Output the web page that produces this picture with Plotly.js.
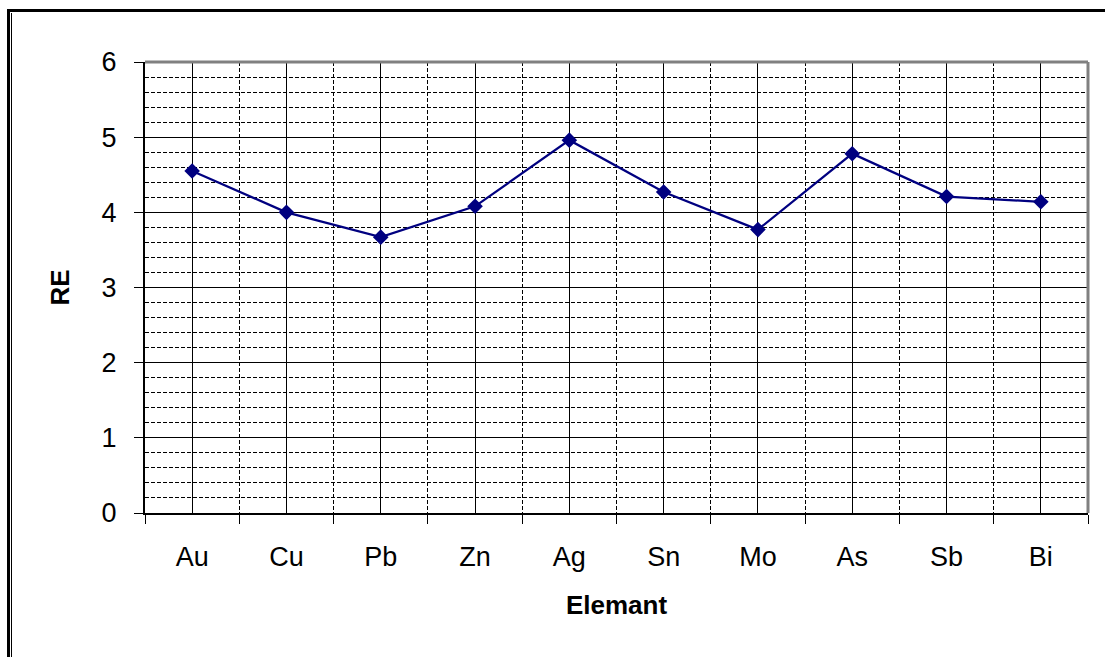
<!DOCTYPE html>
<html>
<head>
<meta charset="utf-8">
<script src="https://cdn.plot.ly/plotly-3.0.1.min.js"></script>
<style>
  html, body { margin: 0; padding: 0; background: #fff; width: 1105px; height: 657px; overflow: hidden; }
  #chart { position: absolute; left: 0; top: 0; width: 1105px; height: 657px; }
  .frame1 { position: absolute; left: 7px; top: 9px; width: 1200px; height: 700px;
            border-left: 3px solid #000; border-top: 3px solid #000; pointer-events: none; }
  .frame2 { position: absolute; left: 11px; top: 13px; width: 1200px; height: 700px;
            border-left: 1px solid #000; border-top: 0; pointer-events: none; }
</style>
</head>
<body>
<div id="chart"></div>
<div class="frame1"></div>
<div class="frame2"></div>
<script>
const categories = ["Au", "Cu", "Pb", "Zn", "Ag", "Sn", "Mo", "As", "Sb", "Bi"];
const reValues   = [4.55, 4.00, 3.67, 4.08, 4.96, 4.27, 3.77, 4.78, 4.21, 4.14];
const yTickVals  = [0, 1, 2, 3, 4, 5, 6];

const xIdx = categories.map((_, i) => i);

const trace = {
  x: xIdx,
  y: reValues,
  type: "scatter",
  mode: "lines+markers",
  line: { color: "#000080", width: 2.3 },
  marker: { symbol: "diamond", size: 12, color: "#000080" },
  hoverinfo: "skip",
  showlegend: false
};

const font = { family: "Liberation Sans, Arial, sans-serif", color: "#000" };

const layout = {
  width: 1105,
  height: 657,
  margin: { l: 145, r: 17, t: 62, b: 144 },
  paper_bgcolor: "rgba(0,0,0,0)",
  plot_bgcolor: "#fff",
  font: font,
  showlegend: false,
  xaxis: {
    range: [-0.5, categories.length - 0.5],
    tickmode: "array",
    tickvals: xIdx,
    ticktext: categories,
    ticks: "",
    tickfont: { family: font.family, size: 27, color: "#000" },
    showgrid: true,
    gridcolor: "#000",
    gridwidth: 1,
    zeroline: false,
    showline: true,
    linecolor: "#000",
    linewidth: 2,
    ticklabelstandoff: 19,
    minor: {
      tick0: -0.5,
      dtick: 1,
      ticks: "outside",
      ticklen: 9,
      tickcolor: "#000",
      tickwidth: 1,
      showgrid: true,
      gridcolor: "#000",
      gridwidth: 1,
      griddash: "4px,2px"
    },
    title: {
      text: "<b>Elemant</b>",
      font: { family: font.family, size: 26, color: "#000" },
      standoff: 24
    },
    fixedrange: true
  },
  yaxis: {
    range: [0, 6],
    tickmode: "array",
    tickvals: yTickVals,
    ticks: "outside",
    ticklen: 9,
    tickcolor: "#000",
    tickwidth: 1,
    tickfont: { family: font.family, size: 27, color: "#000" },
    showgrid: true,
    gridcolor: "#000",
    gridwidth: 1,
    zeroline: false,
    showline: true,
    linecolor: "#000",
    linewidth: 2,
    ticklabelstandoff: 12,
    minor: {
      tick0: 0,
      dtick: 0.2,
      ticks: "",
      showgrid: true,
      gridcolor: "#000",
      gridwidth: 1,
      griddash: "4px,2px"
    },
    title: {
      text: "<b>RE</b>",
      font: { family: font.family, size: 26, color: "#000" },
      standoff: 24
    },
    fixedrange: true
  },
  shapes: [
    { type: "line", xref: "paper", yref: "paper", x0: 0, x1: 1, y0: 1, y1: 1,
      line: { color: "#808080", width: 3 } },
    { type: "line", xref: "paper", yref: "paper", x0: 1, x1: 1, y0: 0, y1: 1,
      line: { color: "#808080", width: 3 } }
  ]
};

Plotly.newPlot("chart", [trace], layout, { staticPlot: true, displayModeBar: false });
</script>
</body>
</html>
